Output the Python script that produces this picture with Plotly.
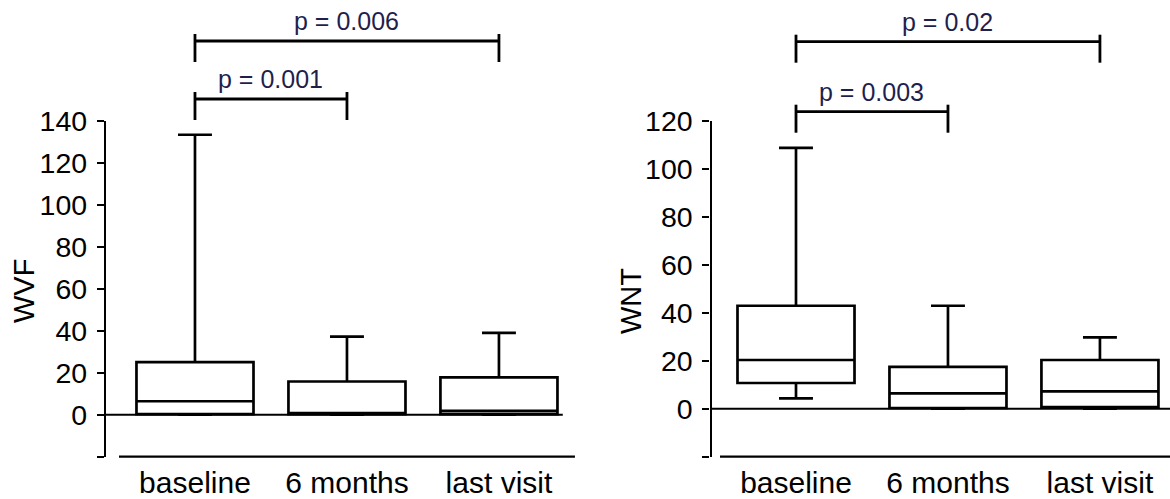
import plotly.graph_objects as go

W, H = 1170, 499
FONT = "Liberation Sans, Arial, Helvetica, sans-serif"
P_COLOR = "#1f1f4d"

categories = ["baseline", "6 months", "last visit"]
positions = [0, 1, 2]

# WVF per visit: box summary (whisker ends, quartiles, median)
wvf_lower = [0.0, 0.0, 0.0]
wvf_q1 = [0.3, 0.3, 0.3]
wvf_median = [6.4, 0.8, 1.8]
wvf_q3 = [25.0, 15.8, 17.8]
wvf_upper = [133.3, 37.2, 39.0]

# WNT per visit
wnt_lower = [4.3, 0.0, 0.0]
wnt_q1 = [10.7, 0.3, 0.7]
wnt_median = [20.3, 6.4, 7.2]
wnt_q3 = [42.9, 17.4, 20.3]
wnt_upper = [108.7, 42.9, 29.7]

wvf_ticks = [-20, 0, 20, 40, 60, 80, 100, 120, 140]
wnt_ticks = [-20, 0, 20, 40, 60, 80, 100, 120]

# pairwise comparisons against baseline
comparisons = [(0, 1), (0, 2)]
wvf_pvalues = ["p = 0.001", "p = 0.006"]
wnt_pvalues = ["p = 0.003", "p = 0.02"]


def px_x(v):
    return v / W


def px_y(v):
    return 1 - v / H


fig = go.Figure()

box_style = dict(
    line=dict(color="black", width=2.7),
    fillcolor="white",
    width=0.77,
    whiskerwidth=0.29,
    boxpoints=False,
    hoverinfo="skip",
    showlegend=False,
)

fig.add_trace(go.Box(
    x=positions, lowerfence=wvf_lower, q1=wvf_q1, median=wvf_median,
    q3=wvf_q3, upperfence=wvf_upper, xaxis="x", yaxis="y", **box_style))
fig.add_trace(go.Box(
    x=positions, lowerfence=wnt_lower, q1=wnt_q1, median=wnt_median,
    q3=wnt_q3, upperfence=wnt_upper, xaxis="x2", yaxis="y2", **box_style))

ydom = [px_y(456.7), px_y(120.7)]


def yaxis_cfg(ticks, rng):
    return dict(
        domain=ydom, range=rng, tickvals=ticks,
        ticktext=["" if t < 0 else str(t) for t in ticks],
        showline=True, linecolor="black", linewidth=2.3,
        ticks="outside", ticklen=7, tickwidth=2.3, tickcolor="black",
        showgrid=False, zeroline=False, automargin=False,
        tickfont=dict(family=FONT, size=28.5, color="black"),
        ticklabelstandoff=4,
    )


def xaxis_cfg(dom, rng):
    return dict(
        domain=dom, range=rng, tickvals=positions, ticktext=categories,
        showline=False, ticks="", showgrid=False, zeroline=False,
        automargin=False,
        tickfont=dict(family=FONT, size=30, color="black"),
        ticklabelstandoff=5,
    )


fig.update_layout(
    template="none",
    width=W, height=H,
    margin=dict(l=0, r=0, t=0, b=0, pad=0, autoexpand=False),
    paper_bgcolor="white", plot_bgcolor="white",
    xaxis=xaxis_cfg([px_x(106), px_x(576)], [-0.5855, 2.507]),
    yaxis=dict(anchor="x", **yaxis_cfg(wvf_ticks, [-20, 140])),
    xaxis2=xaxis_cfg([px_x(711.5), 1.0], [-0.556, 2.461]),
    yaxis2=dict(anchor="x2", **yaxis_cfg(wnt_ticks, [-20, 120])),
)

shapes = []
annotations = []

# zero reference lines and bottom category baselines
for xr, yr, x0, x1 in [("x", "y", -0.5855, 2.42), ("x2", "y2", -0.556, 2.5)]:
    shapes.append(dict(type="line", xref=xr, yref=yr, x0=x0, x1=x1, y0=0, y1=0,
                       line=dict(color="black", width=2)))
    shapes.append(dict(type="line", xref=xr, yref=yr + " domain", x0=-0.5, x1=2.5,
                       y0=0, y1=0, line=dict(color="black", width=2.2)))

# significance brackets (line heights in pixels from the top)
bracket_rows = {
    "x": [99, 41],
    "x2": [111.7, 41.7],
}
pvals = {"x": wvf_pvalues, "x2": wnt_pvalues}
for xr in ["x", "x2"]:
    for (a, b), ypx, label in zip(comparisons, bracket_rows[xr], pvals[xr]):
        ln = dict(color="black", width=2.8)
        yl = px_y(ypx)
        yt = px_y(ypx - 7)
        yb = px_y(ypx + 21)
        shapes.append(dict(type="line", xref=xr, yref="paper", x0=a, x1=b, y0=yl, y1=yl, line=ln))
        shapes.append(dict(type="line", xref=xr, yref="paper", x0=a, x1=a, y0=yt, y1=yb, line=ln))
        shapes.append(dict(type="line", xref=xr, yref="paper", x0=b, x1=b, y0=yt, y1=yb, line=ln))
        annotations.append(dict(
            xref=xr, yref="paper", x=(a + b) / 2, y=px_y(ypx - 20),
            text=label, showarrow=False, xanchor="center", yanchor="middle",
            font=dict(family=FONT, size=25, color=P_COLOR)))

# axis titles
for text, xc, yc in [("WVF", 24, 291), ("WNT", 631, 301)]:
    annotations.append(dict(
        xref="paper", yref="paper", x=px_x(xc), y=px_y(yc), text=text,
        textangle=-90, showarrow=False, xanchor="center", yanchor="middle",
        font=dict(family=FONT, size=29, color="black")))

fig.update_layout(shapes=shapes, annotations=annotations)

fig.write_html("out.html")
